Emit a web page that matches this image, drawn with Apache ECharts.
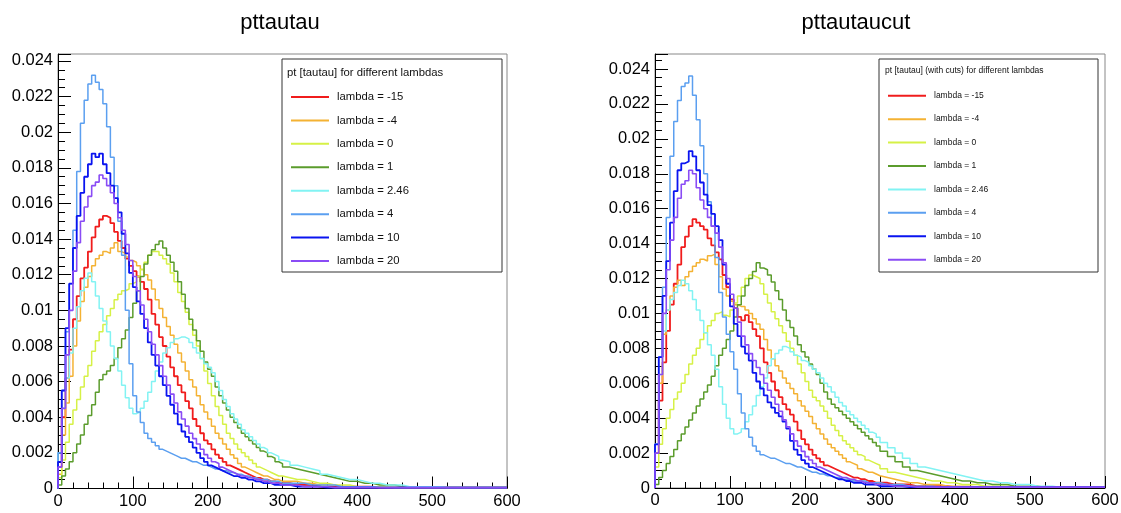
<!DOCTYPE html>
<html>
<head>
<meta charset="utf-8">
<script src="https://cdn.jsdelivr.net/npm/echarts@6/dist/echarts.min.js"></script>
<style>html,body{margin:0;padding:0;background:#fff}#c{width:1121px;height:513px}</style>
</head>
<body>
<div id="c"></div>
<script>
// Binning: 60 bins of 5 GeV (0-300), then 10 GeV bins up to 600
const FINE_W = 5, FINE_N = 60, COARSE_W = 10;
const X_TICKS = [0, 100, 200, 300, 400, 500, 600];
const lambdaNames = ['lambda = -15','lambda = -4','lambda = 0','lambda = 1','lambda = 2.46','lambda = 4','lambda = 10','lambda = 20'];
const lineColors = ['#f01c1c','#f4b233','#d6f146','#5b9c2c','#82f3f3','#5b9ff0','#0a14f0','#8a4cf5'];
const titles = ['pttautau','pttautaucut'];
const legendTitles = ['pt [tautau] for different lambdas','pt [tautau] (with cuts) for different lambdas'];

// ---- left panel: pttautau ----
const L_m15 = [
 0.0012,0.0040,0.0062,0.0078,0.0095,0.0108,0.0118,0.0124,0.0133,0.0141,
 0.0147,0.0151,0.0153,0.0152,0.0149,0.0144,0.0139,0.0135,0.0129,0.0125,
 0.0122,0.0119,0.0116,0.0112,0.0106,0.0098,0.0092,0.0085,0.0080,0.0074,
 0.0068,0.0063,0.0058,0.0054,0.0049,0.0045,0.0039,0.0035,0.0031,0.0027,
 0.0025,0.0022,0.0019,0.0017,0.0015,0.0013,0.0012,0.0011,0.0010,0.0009,
 0.0008,0.0007,0.0006,0.0006,0.0005,0.0005,0.0004,0.0004,0.0003,0.0003,
 0.0003,0.0002,0.0002,0.0002,0.0001,0.0001,0.0001,0.0001,0.0001,0.0001,
 0.0001,0.0001,5e-5,5e-5,5e-5,5e-5,5e-5,5e-5,5e-5,5e-5,
 5e-5,5e-5,5e-5,5e-5,5e-5,5e-5,5e-5,5e-5,5e-5,5e-5];
const L_m4 = [
 0.0008,0.0030,0.0048,0.0063,0.0080,0.0094,0.0105,0.0113,0.0119,0.0125,
 0.0129,0.0131,0.0133,0.0132,0.0135,0.0138,0.0133,0.0132,0.0130,0.0128,
 0.0127,0.0125,0.0123,0.0120,0.0117,0.0112,0.0106,0.0101,0.0096,0.0091,
 0.0086,0.0081,0.0076,0.0071,0.0066,0.0061,0.0057,0.0052,0.0047,0.0043,
 0.0039,0.0035,0.0031,0.0028,0.0025,0.0022,0.0019,0.0017,0.0014,0.0012,
 0.0011,0.0010,0.0009,0.0008,0.0007,0.0007,0.0006,0.0005,0.0005,0.0004,
 0.0004,0.0004,0.0003,0.0003,0.0002,0.0002,0.0002,0.0001,0.0001,0.0001,
 0.0001,0.0001,0.0001,5e-5,5e-5,5e-5,5e-5,5e-5,5e-5,5e-5,
 5e-5,5e-5,5e-5,5e-5,5e-5,5e-5,5e-5,5e-5,5e-5,5e-5];
const L_0 = [
 0.0006,0.0016,0.0026,0.0036,0.0044,0.0050,0.0057,0.0063,0.0069,0.0077,
 0.0083,0.0088,0.0092,0.0097,0.0101,0.0106,0.0109,0.0111,0.0112,0.0115,
 0.0116,0.0119,0.0123,0.0127,0.0131,0.0133,0.0133,0.0131,0.0129,0.0126,
 0.0121,0.0116,0.0110,0.0105,0.0099,0.0092,0.0086,0.0080,0.0073,0.0066,
 0.0059,0.0052,0.0046,0.0041,0.0036,0.0031,0.0028,0.0025,0.0022,0.0020,
 0.0018,0.0016,0.0014,0.0012,0.0011,0.0010,0.0009,0.0008,0.0007,0.0007,
 0.0006,0.0005,0.0005,0.0004,0.0003,0.0003,0.0002,0.0002,0.0002,0.0001,
 0.0001,0.0001,0.0001,0.0001,5e-5,5e-5,5e-5,5e-5,5e-5,5e-5,
 5e-5,5e-5,5e-5,5e-5,5e-5,5e-5,5e-5,5e-5,5e-5,5e-5];
const L_1 = [
 0.0002,0.0007,0.0011,0.0015,0.0020,0.0025,0.0030,0.0036,0.0041,0.0047,
 0.0054,0.0061,0.0064,0.0066,0.0069,0.0073,0.0079,0.0084,0.0089,0.0096,
 0.0104,0.0111,0.0119,0.0126,0.0131,0.0134,0.0137,0.0139,0.0135,0.0131,
 0.0127,0.0122,0.0116,0.0109,0.0101,0.0095,0.0089,0.0083,0.0077,0.0071,
 0.0067,0.0063,0.0057,0.0052,0.0048,0.0044,0.0040,0.0037,0.0034,0.0031,
 0.0029,0.0027,0.0025,0.0023,0.0021,0.0020,0.0018,0.0017,0.0015,0.0014,
 0.0012,0.0011,0.0010,0.0009,0.0008,0.0007,0.0006,0.0005,0.0004,0.0004,
 0.0003,0.0003,0.0002,0.0002,0.0002,0.0001,0.0001,0.0001,0.0001,0.0001,
 5e-5,5e-5,5e-5,5e-5,5e-5,5e-5,5e-5,5e-5,5e-5,5e-5];
const L_246 = [
 0.0020,0.0045,0.0062,0.0076,0.0090,0.0102,0.0111,0.0118,0.0121,0.0116,
 0.0108,0.0101,0.0094,0.0088,0.0080,0.0073,0.0066,0.0058,0.0051,0.0045,
 0.0042,0.0043,0.0045,0.0049,0.0054,0.0060,0.0066,0.0071,0.0076,0.0079,
 0.0082,0.0084,0.0085,0.0085,0.0084,0.0082,0.0079,0.0076,0.0073,0.0070,
 0.0068,0.0065,0.0060,0.0055,0.0050,0.0046,0.0042,0.0039,0.0036,0.0033,
 0.0031,0.0029,0.0027,0.0025,0.0023,0.0022,0.0020,0.0019,0.0018,0.0016,
 0.0015,0.0013,0.0012,0.0011,0.0010,0.0008,0.0007,0.0006,0.0005,0.0005,
 0.0004,0.0003,0.0003,0.0002,0.0002,0.0002,0.0001,0.0001,0.0001,0.0001,
 0.0001,5e-5,5e-5,5e-5,5e-5,5e-5,5e-5,5e-5,5e-5,5e-5];
const L_4 = [
 0.0020,0.0055,0.0088,0.0115,0.0145,0.0178,0.0205,0.0218,0.0227,0.0232,
 0.0228,0.0224,0.0216,0.0203,0.0186,0.0170,0.0150,0.0131,0.0100,0.0070,
 0.0052,0.0043,0.0037,0.0031,0.0028,0.0026,0.0024,0.0022,0.0021,0.0020,
 0.0019,0.0018,0.0017,0.0017,0.0016,0.0015,0.0015,0.0014,0.0013,0.0013,
 0.0012,0.0011,0.0011,0.0010,0.0010,0.0009,0.0009,0.0008,0.0008,0.0007,
 0.0007,0.0006,0.0006,0.0005,0.0005,0.0005,0.0004,0.0004,0.0004,0.0003,
 0.0003,0.0003,0.0003,0.0002,0.0002,0.0002,0.0002,0.0001,0.0001,0.0001,
 0.0001,0.0001,5e-5,5e-5,5e-5,5e-5,5e-5,5e-5,5e-5,5e-5,
 5e-5,5e-5,5e-5,5e-5,5e-5,5e-5,5e-5,5e-5,5e-5,5e-5];
const L_10 = [
 0.0015,0.0055,0.0090,0.0115,0.0135,0.0153,0.0166,0.0175,0.0182,0.0188,
 0.0186,0.0188,0.0182,0.0177,0.0170,0.0163,0.0155,0.0143,0.0132,0.0121,
 0.0113,0.0105,0.0098,0.0090,0.0082,0.0075,0.0069,0.0063,0.0058,0.0052,
 0.0047,0.0042,0.0036,0.0032,0.0029,0.0026,0.0023,0.0020,0.0017,0.0015,
 0.0013,0.0012,0.0011,0.0010,0.0009,0.0008,0.0007,0.0007,0.0006,0.0006,
 0.0005,0.0005,0.0004,0.0004,0.0003,0.0003,0.0003,0.0002,0.0002,0.0002,
 0.0002,0.0001,0.0001,0.0001,0.0001,5e-5,5e-5,5e-5,5e-5,5e-5,
 5e-5,5e-5,5e-5,5e-5,5e-5,5e-5,5e-5,5e-5,5e-5,5e-5,
 5e-5,5e-5,5e-5,5e-5,5e-5,5e-5,5e-5,5e-5,5e-5,5e-5];
const L_20 = [
 0.0012,0.0045,0.0075,0.0100,0.0122,0.0138,0.0150,0.0158,0.0164,0.0170,
 0.0172,0.0176,0.0174,0.0170,0.0166,0.0160,0.0152,0.0145,0.0137,0.0128,
 0.0119,0.0111,0.0103,0.0095,0.0088,0.0081,0.0075,0.0069,0.0063,0.0058,
 0.0053,0.0048,0.0043,0.0039,0.0035,0.0031,0.0028,0.0025,0.0022,0.0019,
 0.0017,0.0015,0.0014,0.0012,0.0011,0.0010,0.0009,0.0008,0.0007,0.0007,
 0.0006,0.0006,0.0005,0.0005,0.0004,0.0004,0.0003,0.0003,0.0003,0.0002,
 0.0002,0.0002,0.0001,0.0001,0.0001,0.0001,5e-5,5e-5,5e-5,5e-5,
 5e-5,5e-5,5e-5,5e-5,5e-5,5e-5,5e-5,5e-5,5e-5,5e-5,
 5e-5,5e-5,5e-5,5e-5,5e-5,5e-5,5e-5,5e-5,5e-5,5e-5];

// ---- right panel: pttautaucut ----
const R_m15 = [
 0.0020,0.0050,0.0072,0.0090,0.0105,0.0117,0.0128,0.0138,0.0144,0.0150,
 0.0154,0.0152,0.0150,0.0148,0.0143,0.0139,0.0135,0.0131,0.0122,0.0115,
 0.0108,0.0103,0.0098,0.0096,0.0099,0.0095,0.0091,0.0087,0.0080,0.0072,
 0.0066,0.0061,0.0056,0.0052,0.0048,0.0045,0.0042,0.0038,0.0033,0.0028,
 0.0025,0.0022,0.0019,0.0017,0.0015,0.0013,0.0012,0.0011,0.0010,0.0009,
 0.0008,0.0007,0.0006,0.0006,0.0005,0.0005,0.0004,0.0004,0.0003,0.0003,
 0.0003,0.0002,0.0002,0.0002,0.0001,0.0001,0.0001,0.0001,0.0001,5e-5,
 5e-5,5e-5,5e-5,5e-5,5e-5,5e-5,5e-5,5e-5,5e-5,5e-5,
 5e-5,5e-5,5e-5,5e-5,5e-5,5e-5,5e-5,5e-5,5e-5,5e-5];
const R_m4 = [
 0.0020,0.0060,0.0088,0.0102,0.0110,0.0115,0.0119,0.0116,0.0121,0.0124,
 0.0127,0.0129,0.0131,0.0130,0.0133,0.0134,0.0128,0.0121,0.0114,0.0110,
 0.0107,0.0105,0.0104,0.0104,0.0102,0.0100,0.0097,0.0094,0.0091,0.0085,
 0.0079,0.0074,0.0070,0.0067,0.0063,0.0060,0.0057,0.0054,0.0050,0.0047,
 0.0044,0.0041,0.0037,0.0034,0.0031,0.0028,0.0025,0.0023,0.0021,0.0019,
 0.0017,0.0015,0.0014,0.0013,0.0011,0.0010,0.0009,0.0009,0.0008,0.0007,
 0.0006,0.0005,0.0004,0.0003,0.0003,0.0002,0.0002,0.0002,0.0001,0.0001,
 0.0001,0.0001,5e-5,5e-5,5e-5,5e-5,5e-5,5e-5,5e-5,5e-5,
 5e-5,5e-5,5e-5,5e-5,5e-5,5e-5,5e-5,5e-5,5e-5,5e-5];
const R_0 = [
 0.0012,0.0025,0.0034,0.0040,0.0045,0.0051,0.0055,0.0060,0.0065,0.0071,
 0.0076,0.0080,0.0085,0.0089,0.0093,0.0096,0.0100,0.0101,0.0099,0.0098,
 0.0102,0.0106,0.0110,0.0115,0.0120,0.0122,0.0121,0.0120,0.0117,0.0111,
 0.0106,0.0101,0.0097,0.0093,0.0089,0.0084,0.0080,0.0076,0.0071,0.0066,
 0.0061,0.0056,0.0052,0.0050,0.0047,0.0044,0.0040,0.0036,0.0033,0.0030,
 0.0027,0.0025,0.0023,0.0021,0.0019,0.0018,0.0016,0.0015,0.0014,0.0013,
 0.0011,0.0009,0.0008,0.0007,0.0006,0.0005,0.0004,0.0004,0.0003,0.0003,
 0.0002,0.0002,0.0002,0.0001,0.0001,0.0001,0.0001,5e-5,5e-5,5e-5,
 5e-5,5e-5,5e-5,5e-5,5e-5,5e-5,5e-5,5e-5,5e-5,5e-5];
const R_1 = [
 0.0002,0.0006,0.0010,0.0014,0.0018,0.0022,0.0027,0.0031,0.0035,0.0039,
 0.0043,0.0047,0.0051,0.0055,0.0059,0.0064,0.0070,0.0076,0.0080,0.0085,
 0.0090,0.0098,0.0105,0.0110,0.0116,0.0120,0.0124,0.0129,0.0126,0.0125,
 0.0122,0.0118,0.0113,0.0108,0.0102,0.0096,0.0092,0.0087,0.0082,0.0078,
 0.0075,0.0071,0.0068,0.0065,0.0060,0.0055,0.0051,0.0048,0.0046,0.0044,
 0.0042,0.0040,0.0038,0.0036,0.0034,0.0032,0.0030,0.0028,0.0026,0.0024,
 0.0021,0.0018,0.0015,0.0012,0.0010,0.0009,0.0008,0.0007,0.0006,0.0005,
 0.0004,0.0004,0.0003,0.0003,0.0002,0.0002,0.0002,0.0001,0.0001,0.0001,
 0.0001,5e-5,5e-5,5e-5,5e-5,5e-5,5e-5,5e-5,5e-5,5e-5];
const R_246 = [
 0.0025,0.0065,0.0090,0.0102,0.0108,0.0112,0.0116,0.0119,0.0117,0.0113,
 0.0108,0.0102,0.0096,0.0089,0.0082,0.0076,0.0068,0.0058,0.0048,0.0040,
 0.0034,0.0031,0.0032,0.0034,0.0038,0.0042,0.0047,0.0053,0.0058,0.0063,
 0.0070,0.0074,0.0077,0.0079,0.0081,0.0080,0.0078,0.0076,0.0075,0.0073,
 0.0072,0.0070,0.0068,0.0066,0.0063,0.0060,0.0058,0.0055,0.0052,0.0049,
 0.0047,0.0044,0.0042,0.0040,0.0038,0.0036,0.0034,0.0032,0.0031,0.0029,
 0.0026,0.0023,0.0020,0.0017,0.0014,0.0012,0.0011,0.0010,0.0009,0.0008,
 0.0007,0.0006,0.0005,0.0004,0.0004,0.0003,0.0003,0.0002,0.0002,0.0002,
 0.0001,0.0001,0.0001,5e-5,5e-5,5e-5,5e-5,5e-5,5e-5,5e-5];
const R_4 = [
 0.0025,0.0075,0.0115,0.0155,0.0190,0.0210,0.0222,0.0230,0.0232,0.0236,
 0.0225,0.0211,0.0196,0.0180,0.0164,0.0150,0.0132,0.0112,0.0098,0.0088,
 0.0078,0.0068,0.0054,0.0043,0.0034,0.0029,0.0024,0.0021,0.0019,0.0018,
 0.0017,0.0017,0.0016,0.0015,0.0014,0.0014,0.0013,0.0012,0.0012,0.0011,
 0.0010,0.0009,0.0009,0.0008,0.0008,0.0007,0.0007,0.0006,0.0006,0.0005,
 0.0005,0.0005,0.0004,0.0004,0.0004,0.0004,0.0003,0.0003,0.0003,0.0003,
 0.0002,0.0002,0.0002,0.0001,0.0001,0.0001,0.0001,5e-5,5e-5,5e-5,
 5e-5,5e-5,5e-5,5e-5,5e-5,5e-5,5e-5,5e-5,5e-5,5e-5,
 5e-5,5e-5,5e-5,5e-5,5e-5,5e-5,5e-5,5e-5,5e-5,5e-5];
const R_10 = [
 0.0025,0.0075,0.0110,0.0130,0.0152,0.0170,0.0182,0.0186,0.0187,0.0193,
 0.0190,0.0182,0.0175,0.0168,0.0162,0.0157,0.0150,0.0142,0.0128,0.0117,
 0.0104,0.0094,0.0087,0.0081,0.0077,0.0073,0.0066,0.0061,0.0057,0.0053,
 0.0049,0.0046,0.0043,0.0041,0.0038,0.0034,0.0027,0.0022,0.0019,0.0016,
 0.0014,0.0012,0.0011,0.0010,0.0009,0.0008,0.0007,0.0006,0.0005,0.0005,
 0.0004,0.0004,0.0003,0.0003,0.0003,0.0002,0.0002,0.0002,0.0002,0.0001,
 0.0001,0.0001,0.0001,5e-5,5e-5,5e-5,5e-5,5e-5,5e-5,5e-5,
 5e-5,5e-5,5e-5,5e-5,5e-5,5e-5,5e-5,5e-5,5e-5,5e-5,
 5e-5,5e-5,5e-5,5e-5,5e-5,5e-5,5e-5,5e-5,5e-5,5e-5];
const R_20 = [
 0.0020,0.0065,0.0100,0.0125,0.0142,0.0155,0.0166,0.0174,0.0176,0.0182,
 0.0180,0.0172,0.0165,0.0160,0.0155,0.0150,0.0146,0.0138,0.0129,0.0120,
 0.0111,0.0103,0.0095,0.0087,0.0082,0.0077,0.0073,0.0069,0.0065,0.0060,
 0.0056,0.0052,0.0048,0.0044,0.0039,0.0035,0.0031,0.0027,0.0024,0.0021,
 0.0018,0.0016,0.0014,0.0012,0.0011,0.0010,0.0009,0.0008,0.0007,0.0006,
 0.0006,0.0005,0.0005,0.0004,0.0004,0.0003,0.0003,0.0003,0.0002,0.0002,
 0.0002,0.0001,0.0001,0.0001,5e-5,5e-5,5e-5,5e-5,5e-5,5e-5,
 5e-5,5e-5,5e-5,5e-5,5e-5,5e-5,5e-5,5e-5,5e-5,5e-5,
 5e-5,5e-5,5e-5,5e-5,5e-5,5e-5,5e-5,5e-5,5e-5,5e-5];

const leftSets = [L_m15, L_m4, L_0, L_1, L_246, L_4, L_10, L_20];
const rightSets = [R_m15, R_m4, R_0, R_1, R_246, R_4, R_10, R_20];

const FONT = 'Liberation Sans, Arial, Helvetica, sans-serif';

function binEdge(i) {
  return i <= FINE_N ? i * FINE_W : FINE_N * FINE_W + (i - FINE_N) * COARSE_W;
}
function histPoints(vals) {
  const pts = [[0, 0]];
  vals.forEach((v, i) => pts.push([binEdge(i), v]));
  pts.push([binEdge(vals.length), vals[vals.length - 1]]);
  return pts;
}

const lineWidths = [1.8, 1.5, 1.5, 1.5, 1.5, 1.5, 1.8, 1.6];

const series = [];
[leftSets, rightSets].forEach((sets, p) => {
  sets.forEach((vals, k) => {
    series.push({
      name: lambdaNames[k], type: 'line', step: 'end',
      xAxisIndex: p, yAxisIndex: p,
      symbol: 'none', showSymbol: false, animation: false,
      color: lineColors[k],
      lineStyle: { color: lineColors[k], width: lineWidths[k] },
      data: histPoints(vals)
    });
  });
});

const gridDefs = [
  { left: 58, right: 1121 - 507, top: 54, bottom: 513 - 488.5 },
  { left: 655, right: 1121 - 1105, top: 54, bottom: 513 - 488 }
];
const yMax = [0.02439, 0.02486];

function xAxis(i) {
  return {
    type: 'value', gridIndex: i, min: X_TICKS[0], max: X_TICKS[X_TICKS.length - 1], interval: 100,
    axisLine: { show: true, onZero: false, lineStyle: { color: '#000', width: 1 } },
    axisTick: { show: true, inside: true, length: 12, lineStyle: { color: '#000' } },
    minorTick: { show: true, splitNumber: 5, length: 6, lineStyle: { color: '#000' } },
    splitLine: { show: false },
    axisLabel: { color: '#000', fontSize: 16.5, fontFamily: FONT, margin: 4 }
  };
}
function yAxis(i) {
  return {
    type: 'value', gridIndex: i, min: 0, max: yMax[i], interval: 0.002,
    axisLine: { show: true, onZero: false, lineStyle: { color: '#000', width: 1 } },
    axisTick: { show: true, inside: true, length: 13, lineStyle: { color: '#000' } },
    minorTick: { show: true, splitNumber: 4, length: 7, lineStyle: { color: '#000' } },
    splitLine: { show: false },
    axisLabel: { color: '#000', fontSize: 16.5, fontFamily: FONT, margin: 5, showMaxLabel: false,
      formatter: v => String(+v.toFixed(4)) }
  };
}

function legend(i) {
  const big = i === 0;
  return {
    show: true, orient: 'vertical', icon: 'rect',
    left: big ? 291 : 888, top: big ? 90 : 89.7, padding: 0,
    itemWidth: 38, itemHeight: 2,
    itemGap: big ? 9.43 : 11.43,
    selectedMode: false,
    textStyle: { color: '#111', fontFamily: FONT, fontSize: big ? 11.3 : 8.5,
      lineHeight: big ? 14 : 12, padding: [0, 0, 0, 3] },
    data: lambdaNames.map(n => ({ name: n }))
  };
}

const chart = echarts.init(document.getElementById('c'), null, { renderer: 'canvas' });
chart.setOption({
  backgroundColor: '#fff',
  animation: false,
  title: [
    { text: titles[0], left: 275, top: 7, textAlign: 'center',
      textStyle: { fontFamily: FONT, fontSize: 22, fontWeight: 'normal', color: '#000' } },
    { text: titles[1], left: 851, top: 7, textAlign: 'center',
      textStyle: { fontFamily: FONT, fontSize: 22, fontWeight: 'normal', color: '#000' } }
  ],
  grid: gridDefs.map(g => Object.assign({ show: true, borderColor: '#888', borderWidth: 1,
    backgroundColor: 'transparent', containLabel: false, outerBoundsMode: 'none' }, g)),
  xAxis: [xAxis(0), xAxis(1)],
  yAxis: [yAxis(0), yAxis(1)],
  legend: [legend(0), legend(1)],
  graphic: [
    { type: 'rect', shape: { x: 282, y: 59, width: 220, height: 213 }, z: 1,
      style: { fill: '#fff', stroke: '#333', lineWidth: 1 } },
    { type: 'text', x: 287, y: 73, z: 2,
      style: { text: legendTitles[0], fill: '#111', font: '11.3px ' + FONT, textVerticalAlign: 'middle' } },
    { type: 'rect', shape: { x: 879, y: 59, width: 219, height: 213 }, z: 1,
      style: { fill: '#fff', stroke: '#333', lineWidth: 1 } },
    { type: 'text', x: 885, y: 71, z: 2,
      style: { text: legendTitles[1], fill: '#111', font: '8.5px ' + FONT, textVerticalAlign: 'middle' } }
  ],
  series: series
});
</script>
</body>
</html>
